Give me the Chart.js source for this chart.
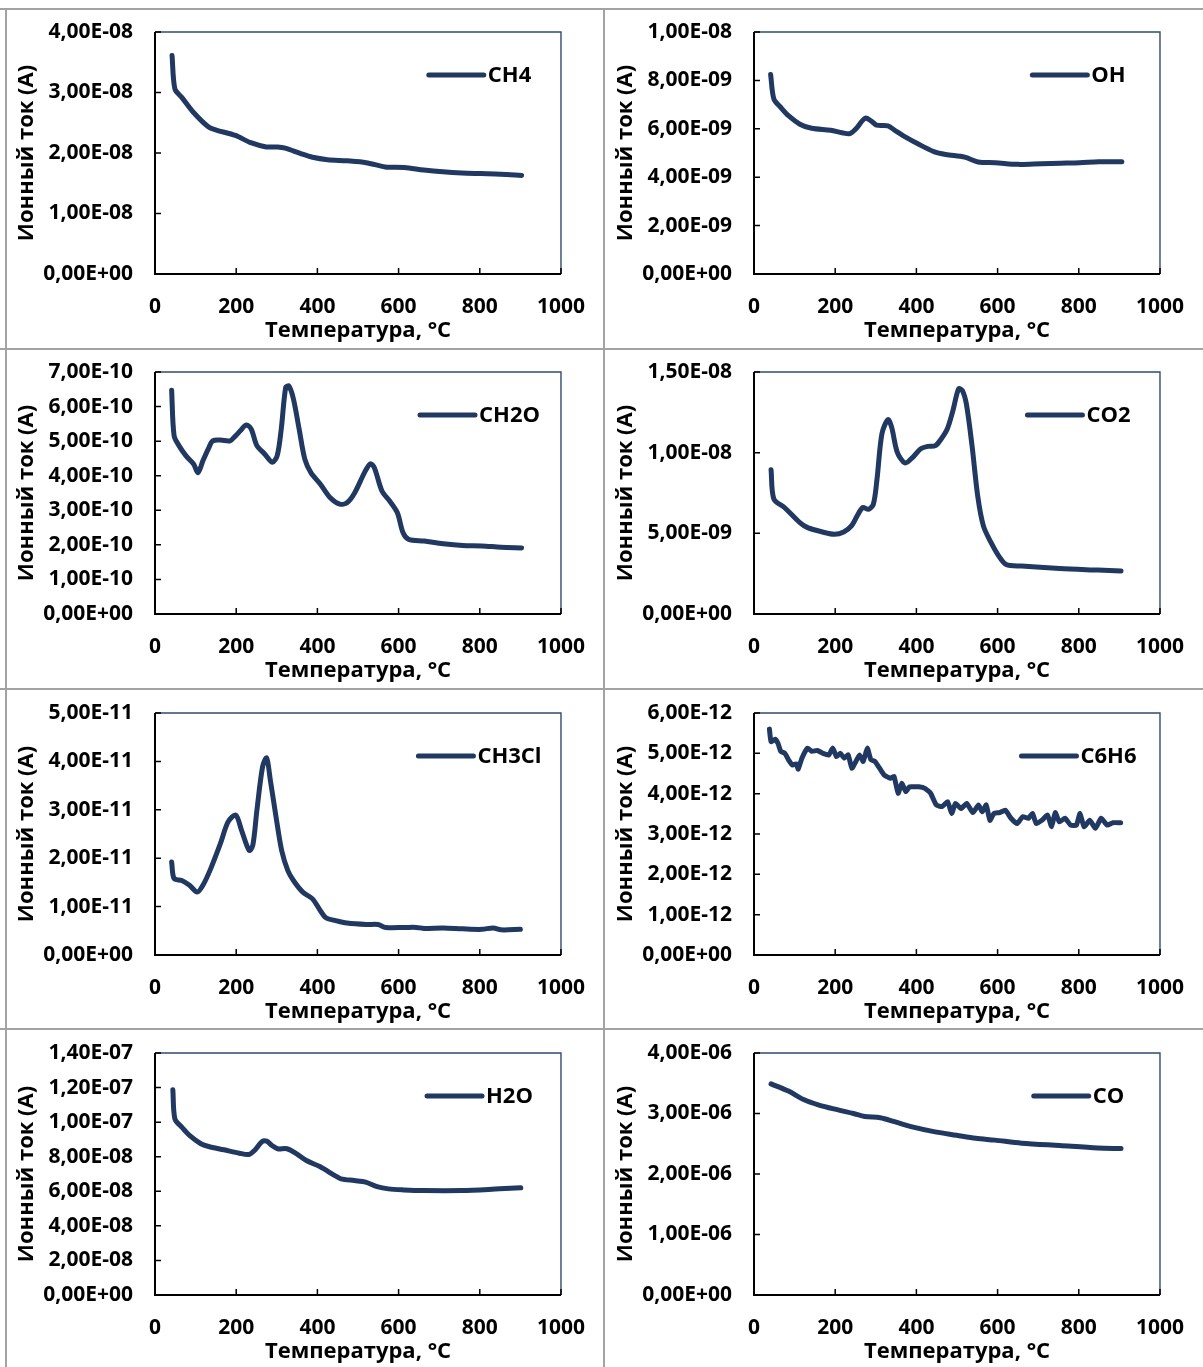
<!DOCTYPE html>
<html>
<head>
<meta charset="utf-8">
<script src="https://cdn.jsdelivr.net/npm/chart.js@4.4.0/dist/chart.umd.min.js"></script>
<style>
  body { margin: 0; width: 1203px; height: 1367px; overflow: hidden; background: #fff; position: relative; }
  .rule { position: absolute; background: #a3a3a3; }
  canvas { position: absolute; }
</style>
</head>
<body>
<div class="rule" style="left:0;top:8px;width:1203px;height:2px"></div>
<div class="rule" style="left:0;top:348px;width:1203px;height:2px"></div>
<div class="rule" style="left:0;top:688px;width:1203px;height:2px"></div>
<div class="rule" style="left:0;top:1028px;width:1203px;height:2px"></div>
<div class="rule" style="left:5px;top:8px;width:2px;height:1359px"></div>
<div class="rule" style="left:603px;top:8px;width:2px;height:1359px"></div>

<canvas id="chCH4" width="600" height="351" style="left:5px;top:-3px"></canvas>
<canvas id="chOH" width="600" height="351" style="left:604px;top:-3px"></canvas>
<canvas id="chCH2O" width="600" height="351" style="left:5px;top:337px"></canvas>
<canvas id="chCO2" width="600" height="351" style="left:604px;top:337px"></canvas>
<canvas id="chCH3Cl" width="600" height="351" style="left:5px;top:678px"></canvas>
<canvas id="chC6H6" width="600" height="351" style="left:604px;top:678px"></canvas>
<canvas id="chH2O" width="600" height="351" style="left:5px;top:1018px"></canvas>
<canvas id="chCO" width="600" height="351" style="left:604px;top:1018px"></canvas>

<script>
// temperatures (°C) and ion currents (mantissa, times unit in A)
var tempCH4 = [42, 49, 66, 95, 132, 151, 198, 236, 274, 302, 321, 359, 388, 425, 473, 520, 567, 614, 662, 709, 756, 803, 851, 903];
var ionCH4 = [3.61, 3.06, 2.92, 2.67, 2.43, 2.38, 2.29, 2.17, 2.10, 2.10, 2.08, 1.99, 1.93, 1.89, 1.87, 1.84, 1.77, 1.76, 1.72, 1.69, 1.67, 1.66, 1.65, 1.63];

var tempOH = [41, 49, 66, 85, 113, 142, 189, 217, 236, 250, 274, 288, 302, 330, 349, 368, 406, 443, 472, 519, 552, 594, 651, 708, 755, 802, 849, 906];
var ionOH = [8.24, 7.23, 6.88, 6.54, 6.19, 6.02, 5.94, 5.84, 5.80, 5.98, 6.44, 6.33, 6.15, 6.12, 5.91, 5.71, 5.36, 5.06, 4.94, 4.83, 4.63, 4.60, 4.53, 4.56, 4.58, 4.60, 4.64, 4.64];

var tempCH2O = [41, 47, 59, 76, 95, 106, 118, 133, 142, 161, 185, 199, 210, 225, 237, 251, 270, 289, 301, 311, 322, 330, 341, 355, 369, 384, 407, 431, 455, 473, 492, 516, 530, 540, 559, 578, 597, 611, 625, 663, 710, 758, 805, 852, 903];
var ionCH2O = [6.47, 5.16, 4.87, 4.58, 4.34, 4.09, 4.43, 4.82, 5.01, 5.03, 5.01, 5.16, 5.30, 5.47, 5.35, 4.87, 4.63, 4.39, 4.58, 5.35, 6.56, 6.59, 6.22, 5.35, 4.48, 4.09, 3.76, 3.37, 3.18, 3.22, 3.51, 4.09, 4.34, 4.24, 3.56, 3.27, 2.93, 2.35, 2.16, 2.11, 2.03, 1.98, 1.97, 1.93, 1.91];

var tempCO2 = [42, 49, 75, 113, 132, 169, 198, 221, 240, 254, 268, 282, 294, 303, 315, 330, 339, 353, 372, 391, 410, 428, 447, 461, 476, 490, 504, 513, 523, 537, 551, 565, 584, 603, 621, 659, 753, 847, 904];
var ionCO2 = [8.94, 7.12, 6.60, 5.66, 5.35, 5.08, 4.94, 5.08, 5.46, 6.08, 6.60, 6.49, 6.80, 8.36, 11.16, 12.05, 11.58, 10.02, 9.36, 9.71, 10.23, 10.39, 10.44, 10.85, 11.47, 12.61, 13.96, 13.86, 13.03, 10.44, 7.32, 5.46, 4.42, 3.59, 3.07, 2.97, 2.82, 2.72, 2.66];

var tempCH3Cl = [41, 47, 66, 85, 104, 118, 137, 161, 180, 199, 213, 232, 241, 251, 265, 275, 284, 298, 312, 327, 341, 364, 388, 407, 421, 445, 473, 521, 549, 568, 616, 644, 663, 710, 758, 805, 833, 852, 900];
var ionCH3Cl = [1.92, 1.58, 1.54, 1.44, 1.30, 1.44, 1.78, 2.30, 2.75, 2.89, 2.58, 2.16, 2.27, 2.99, 3.89, 4.07, 3.62, 2.86, 2.16, 1.75, 1.54, 1.30, 1.16, 0.92, 0.77, 0.71, 0.66, 0.63, 0.63, 0.57, 0.57, 0.57, 0.55, 0.56, 0.54, 0.53, 0.56, 0.52, 0.53];

var tempC6H6 = [38, 42, 52, 59, 66, 76, 85, 95, 104, 109, 118, 132, 142, 156, 170, 184, 194, 203, 213, 222, 232, 241, 251, 260, 269, 279, 288, 298, 312, 321, 336, 345, 355, 364, 374, 383, 392, 406, 421, 435, 449, 463, 477, 487, 496, 510, 524, 539, 553, 562, 572, 581, 591, 605, 619, 633, 648, 662, 676, 686, 695, 709, 723, 733, 742, 752, 766, 780, 794, 803, 813, 827, 841, 855, 870, 884, 903];
var ionC6H6 = [5.60, 5.29, 5.35, 5.25, 5.05, 5.00, 4.84, 4.71, 4.74, 4.61, 4.88, 5.13, 5.05, 5.07, 5.00, 4.96, 5.13, 4.92, 5.00, 4.88, 4.96, 4.63, 4.80, 4.96, 4.80, 5.13, 4.84, 4.80, 4.59, 4.46, 4.38, 4.42, 4.01, 4.26, 4.05, 4.17, 4.17, 4.17, 4.13, 4.01, 3.72, 3.68, 3.80, 3.51, 3.76, 3.63, 3.76, 3.53, 3.72, 3.55, 3.72, 3.34, 3.51, 3.53, 3.59, 3.39, 3.26, 3.43, 3.39, 3.51, 3.26, 3.34, 3.47, 3.18, 3.53, 3.30, 3.39, 3.22, 3.22, 3.51, 3.18, 3.34, 3.14, 3.39, 3.22, 3.28, 3.28];

var tempH2O = [44, 49, 66, 85, 113, 132, 170, 208, 231, 245, 264, 275, 288, 302, 325, 349, 373, 406, 443, 458, 491, 519, 547, 575, 613, 660, 755, 849, 901];
var ionH2O = [11.87, 10.19, 9.71, 9.23, 8.75, 8.59, 8.40, 8.20, 8.13, 8.36, 8.88, 8.90, 8.65, 8.46, 8.46, 8.17, 7.78, 7.43, 6.91, 6.72, 6.62, 6.53, 6.27, 6.14, 6.08, 6.04, 6.04, 6.14, 6.20];

var tempCO = [42, 85, 122, 160, 207, 245, 273, 311, 348, 395, 443, 499, 546, 593, 659, 753, 847, 904];
var ionCO = [3.49, 3.37, 3.23, 3.14, 3.06, 3.00, 2.95, 2.93, 2.86, 2.77, 2.70, 2.64, 2.59, 2.56, 2.51, 2.47, 2.43, 2.42];

// y axis: max and step per chart
var yMaxList = [4e-8, 1e-8, 7e-10, 1.5e-8, 5e-11, 6e-12, 1.4e-7, 4e-6];
var yStepList = [1e-8, 2e-9, 1e-10, 5e-9, 1e-11, 1e-12, 2e-8, 1e-6];
var xTicks = [0, 200, 400, 600, 800, 1000];

var lineColor = "#1f3864";

Chart.defaults.font.family = "'Open Sans', sans-serif";
Chart.defaults.font.size = 21;
Chart.defaults.font.weight = "bold";
Chart.defaults.color = "#000";

function excelExp(v) {
    if (v === 0) return "0,00E+00";
    var parts = v.toExponential(2).split("e");
    var e = parseInt(parts[1], 10);
    return parts[0].replace(".", ",") + "E" + (e < 0 ? "-" : "+") + String(Math.abs(e)).padStart(2, "0");
}

var framePlugin = {
    id: "frame",
    beforeDatasetsDraw: function (chart) {
        var ctx = chart.ctx, a = chart.chartArea, sx = chart.scales.x, sy = chart.scales.y;
        ctx.save();
        ctx.lineWidth = 1.4;
        ctx.strokeStyle = "#2e4a78";
        ctx.beginPath();
        ctx.moveTo(a.left, a.top);
        ctx.lineTo(a.right, a.top);
        ctx.lineTo(a.right, a.bottom);
        ctx.stroke();
        ctx.strokeStyle = "#000";
        ctx.lineWidth = 2;
        ctx.beginPath();
        ctx.moveTo(a.left, a.top);
        ctx.lineTo(a.left, a.bottom);
        ctx.lineTo(a.right, a.bottom);
        ctx.stroke();
        ctx.lineWidth = 1.5;
        ctx.beginPath();
        sx.ticks.forEach(function (t) {
            var px = sx.getPixelForValue(t.value);
            ctx.moveTo(px, a.bottom);
            ctx.lineTo(px, a.bottom - 6);
        });
        sy.ticks.forEach(function (t) {
            var py = sy.getPixelForValue(t.value);
            ctx.moveTo(a.left, py);
            ctx.lineTo(a.left + 6, py);
        });
        ctx.stroke();
        ctx.restore();
    },
    afterDatasetsDraw: function (chart) {
        var ctx = chart.ctx, a = chart.chartArea;
        var label = chart.data.datasets[0].label;
        ctx.save();
        ctx.font = "bold 22px 'Open Sans', sans-serif";
        var w = ctx.measureText(label).width;
        var total = 55 + 4 + w;
        var x0 = a.left + 325 - total / 2;
        var y0 = a.top + 43;
        ctx.strokeStyle = lineColor;
        ctx.lineWidth = 5;
        ctx.lineCap = "round";
        ctx.beginPath();
        ctx.moveTo(x0, y0);
        ctx.lineTo(x0 + 55, y0);
        ctx.stroke();
        ctx.fillStyle = "#000";
        ctx.textBaseline = "middle";
        ctx.fillText(label, x0 + 59, y0 + 1);
        ctx.restore();
    }
};

function makeChart(id, label, temps, vals, unit, idx, tension) {
    var ctx = document.getElementById(id).getContext("2d");
    var yMax = yMaxList[idx], yStep = yStepList[idx];
    return new Chart(ctx, {
        type: "line",
        data: {
            datasets: [{
                label: label,
                data: temps.map(function (t, i) { return { x: t, y: vals[i] * unit }; }),
                borderColor: lineColor,
                borderWidth: 5,
                borderCapStyle: "round",
                borderJoinStyle: "round",
                pointRadius: 0,
                tension: tension,
                fill: false,
            }],
        },
        options: {
            responsive: false,
            animation: false,
            layout: { padding: { top: 35, right: 42, left: 0, bottom: 0 } },
            plugins: { legend: { display: false }, tooltip: { enabled: false } },
            scales: {
                x: {
                    type: "linear",
                    min: 0,
                    max: 1000,
                    grid: { display: false, drawTicks: false },
                    border: { display: false },
                    afterBuildTicks: function (s) { s.ticks = xTicks.map(function (v) { return { value: v }; }); },
                    afterFit: function (s) { s.height = 74; },
                    ticks: { padding: 20, maxRotation: 0, callback: function (v) { return String(v); } },
                    title: { display: true, text: "Температура, °C", font: { size: 22 }, padding: { top: 0, bottom: 4 } },
                },
                y: {
                    min: 0,
                    max: yMax,
                    grid: { display: false, drawTicks: false },
                    border: { display: false },
                    afterBuildTicks: function (s) {
                        var n = Math.round(yMax / yStep), arr = [];
                        for (var i = 0; i <= n; i++) arr.push({ value: i * yStep });
                        s.ticks = arr;
                    },
                    afterFit: function (s) { s.width = 150; },
                    ticks: { padding: 22, callback: function (v) { return excelExp(v); } },
                    title: { display: true, text: "Ионный ток (A)", font: { size: 22 }, padding: { top: 9, bottom: 0 } },
                },
            },
        },
        plugins: [framePlugin],
    });
}

var chart1 = makeChart("chCH4", "CH4", tempCH4, ionCH4, 1e-8, 0, 0.3);
var chart2 = makeChart("chOH", "OH", tempOH, ionOH, 1e-9, 1, 0.3);
var chart3 = makeChart("chCH2O", "CH2O", tempCH2O, ionCH2O, 1e-10, 2, 0.3);
var chart4 = makeChart("chCO2", "CO2", tempCO2, ionCO2, 1e-9, 3, 0.3);
var chart5 = makeChart("chCH3Cl", "CH3Cl", tempCH3Cl, ionCH3Cl, 1e-11, 4, 0.3);
var chart6 = makeChart("chC6H6", "C6H6", tempC6H6, ionC6H6, 1e-12, 5, 0.15);
var chart7 = makeChart("chH2O", "H2O", tempH2O, ionH2O, 1e-8, 6, 0.3);
var chart8 = makeChart("chCO", "CO", tempCO, ionCO, 1e-6, 7, 0.3);
</script>
</body>
</html>
